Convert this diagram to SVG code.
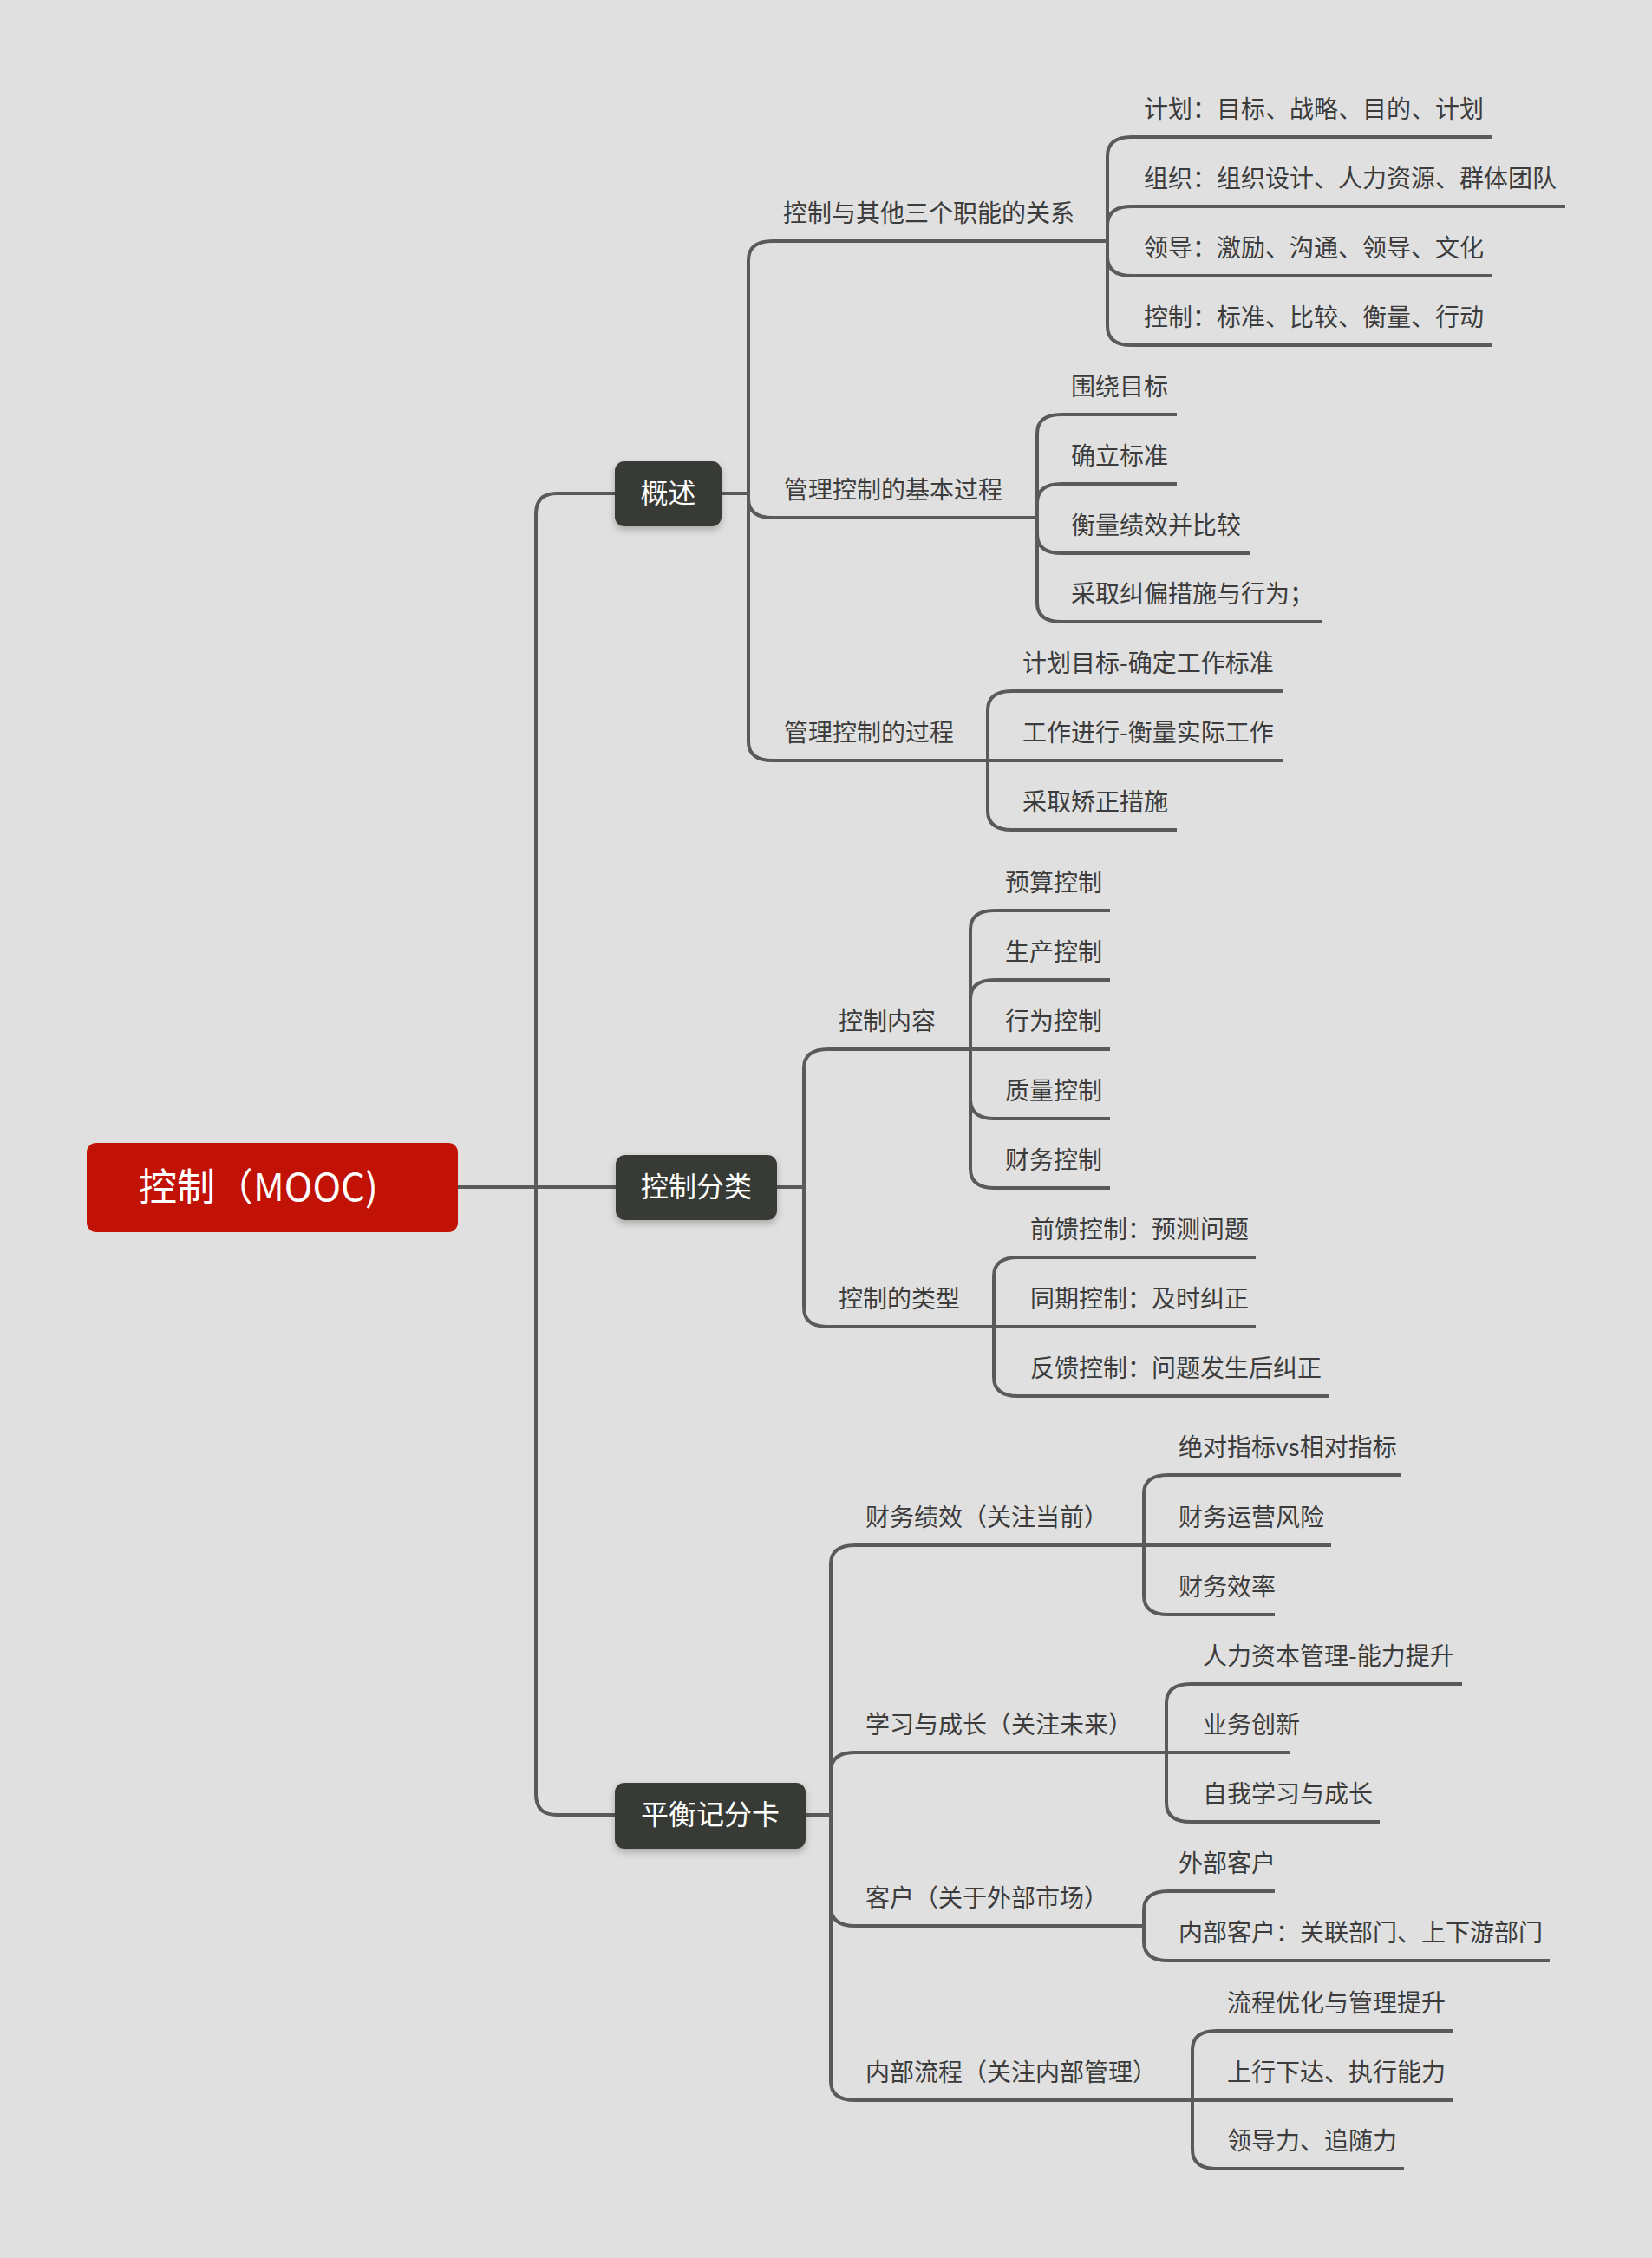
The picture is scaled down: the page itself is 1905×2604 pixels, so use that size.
<svg xmlns="http://www.w3.org/2000/svg" width="1905" height="2604" viewBox="0 0 1905 2604">
<style>
text{font-family:"Noto Sans CJK SC","Noto Sans",sans-serif}
.c path{fill:none;stroke:#5a5a5a;stroke-width:4}
.nb{fill:#393a34;filter:url(#sh)}
.nt{fill:#ffffff;font-size:32px;text-anchor:middle}
.t{fill:#3c3c3c;font-size:28px}
</style>
<defs>
<filter id="sh" x="-20%" y="-20%" width="140%" height="160%">
<feDropShadow dx="0" dy="4" stdDeviation="4" flood-color="#000" flood-opacity="0.25"/>
</filter>
</defs>
<rect width="1905" height="2604" fill="#e0e0e0"/>
<g class="c" id="connectors">
<path d="M709,569 H642 Q618,569 618,593 V2069 Q618,2093 642,2093 H709"/>
<path d="M528,1369 H710"/>
<path d="M832,569 H863"/>
<path d="M896,1369 H927"/>
<path d="M929,2093 H958"/>
<path d="M863,569 V300 Q863,278 891,278 H1277"/>
<path d="M863,569 V575 Q863,597 891,597 H1196"/>
<path d="M863,569 V855 Q863,877 891,877 H1139"/>
<path d="M927,1369 V1232 Q927,1210 955,1210 H1119"/>
<path d="M927,1369 V1508 Q927,1530 955,1530 H1146"/>
<path d="M958,2093 V1804 Q958,1782 986,1782 H1319"/>
<path d="M958,2093 V2043 Q958,2021 986,2021 H1345"/>
<path d="M958,2093 V2199 Q958,2221 986,2221 H1319"/>
<path d="M958,2093 V2400 Q958,2422 986,2422 H1375"/>
<path d="M1277,278 V180 Q1277,158 1305,158 H1720"/>
<path d="M1277,278 V260 Q1277,238 1305,238 H1805"/>
<path d="M1277,278 V296 Q1277,318 1305,318 H1720"/>
<path d="M1277,278 V376 Q1277,398 1305,398 H1720"/>
<path d="M1196,597 V500 Q1196,478 1224,478 H1357"/>
<path d="M1196,597 V580 Q1196,558 1224,558 H1357"/>
<path d="M1196,597 V616 Q1196,638 1224,638 H1441"/>
<path d="M1196,597 V695 Q1196,717 1224,717 H1524"/>
<path d="M1139,877 V819 Q1139,797 1167,797 H1479"/>
<path d="M1139,877 H1479"/>
<path d="M1139,877 V935 Q1139,957 1167,957 H1357"/>
<path d="M1119,1210 V1072 Q1119,1050 1147,1050 H1280"/>
<path d="M1119,1210 V1152 Q1119,1130 1147,1130 H1280"/>
<path d="M1119,1210 H1280"/>
<path d="M1119,1210 V1268 Q1119,1290 1147,1290 H1280"/>
<path d="M1119,1210 V1348 Q1119,1370 1147,1370 H1280"/>
<path d="M1146,1530 V1472 Q1146,1450 1174,1450 H1448"/>
<path d="M1146,1530 H1448"/>
<path d="M1146,1530 V1588 Q1146,1610 1174,1610 H1533"/>
<path d="M1319,1782 V1723 Q1319,1701 1347,1701 H1616"/>
<path d="M1319,1782 H1535"/>
<path d="M1319,1782 V1840 Q1319,1862 1347,1862 H1470"/>
<path d="M1345,2021 V1964 Q1345,1942 1373,1942 H1686"/>
<path d="M1345,2021 H1488"/>
<path d="M1345,2021 V2079 Q1345,2101 1373,2101 H1591"/>
<path d="M1319,2221 V2203 Q1319,2181 1347,2181 H1470"/>
<path d="M1319,2221 V2239 Q1319,2261 1347,2261 H1787"/>
<path d="M1375,2422 V2364 Q1375,2342 1403,2342 H1676"/>
<path d="M1375,2422 H1676"/>
<path d="M1375,2422 V2479 Q1375,2501 1403,2501 H1619"/>
</g>
<g id="root">
<rect x="100" y="1318" width="428" height="103" rx="11" fill="#c21206"/>
<text x="160" y="1385" fill="#ffffff" font-size="44">控制（MOOC)</text>
</g>
<g id="n-gaishu"><rect class="nb" x="709" y="532" width="123" height="75" rx="11"/><text class="nt" x="770.5" y="580">概述</text></g>
<g id="n-fenlei"><rect class="nb" x="710" y="1332" width="186" height="75" rx="11"/><text class="nt" x="803" y="1380">控制分类</text></g>
<g id="n-pingheng"><rect class="nb" x="709" y="2056" width="220" height="76" rx="11"/><text class="nt" x="819" y="2104">平衡记分卡</text></g>
<g id="b1"><text class="t" x="903" y="256">控制与其他三个职能的关系</text></g>
<g id="b2"><text class="t" x="904" y="575">管理控制的基本过程</text></g>
<g id="b3"><text class="t" x="904" y="855">管理控制的过程</text></g>
<g id="b4"><text class="t" x="967" y="1188">控制内容</text></g>
<g id="b5"><text class="t" x="967" y="1508">控制的类型</text></g>
<g id="b6"><text class="t" x="998" y="1760">财务绩效（关注当前）</text></g>
<g id="b7"><text class="t" x="998" y="1999">学习与成长（关注未来）</text></g>
<g id="b8"><text class="t" x="998" y="2199">客户（关于外部市场）</text></g>
<g id="b9"><text class="t" x="998" y="2400">内部流程（关注内部管理）</text></g>
<g id="l1"><text class="t" x="1319" y="136">计划：目标、战略、目的、计划</text></g>
<g id="l2"><text class="t" x="1319" y="216">组织：组织设计、人力资源、群体团队</text></g>
<g id="l3"><text class="t" x="1319" y="296">领导：激励、沟通、领导、文化</text></g>
<g id="l4"><text class="t" x="1319" y="376">控制：标准、比较、衡量、行动</text></g>
<g id="l5"><text class="t" x="1235" y="456">围绕目标</text></g>
<g id="l6"><text class="t" x="1235" y="536">确立标准</text></g>
<g id="l7"><text class="t" x="1235" y="616">衡量绩效并比较</text></g>
<g id="l8"><text class="t" x="1235" y="695">采取纠偏措施与行为；</text></g>
<g id="l9"><text class="t" x="1179" y="775">计划目标-确定工作标准</text></g>
<g id="l10"><text class="t" x="1179" y="855">工作进行-衡量实际工作</text></g>
<g id="l11"><text class="t" x="1179" y="935">采取矫正措施</text></g>
<g id="l12"><text class="t" x="1159" y="1028">预算控制</text></g>
<g id="l13"><text class="t" x="1159" y="1108">生产控制</text></g>
<g id="l14"><text class="t" x="1159" y="1188">行为控制</text></g>
<g id="l15"><text class="t" x="1159" y="1268">质量控制</text></g>
<g id="l16"><text class="t" x="1159" y="1348">财务控制</text></g>
<g id="l17"><text class="t" x="1188" y="1428">前馈控制：预测问题</text></g>
<g id="l18"><text class="t" x="1188" y="1508">同期控制：及时纠正</text></g>
<g id="l19"><text class="t" x="1188" y="1588">反馈控制：问题发生后纠正</text></g>
<g id="l20"><text class="t" x="1359" y="1679">绝对指标vs相对指标</text></g>
<g id="l21"><text class="t" x="1359" y="1760">财务运营风险</text></g>
<g id="l22"><text class="t" x="1359" y="1840">财务效率</text></g>
<g id="l23"><text class="t" x="1387" y="1920">人力资本管理-能力提升</text></g>
<g id="l24"><text class="t" x="1387" y="1999">业务创新</text></g>
<g id="l25"><text class="t" x="1387" y="2079">自我学习与成长</text></g>
<g id="l26"><text class="t" x="1359" y="2159">外部客户</text></g>
<g id="l27"><text class="t" x="1359" y="2239">内部客户：关联部门、上下游部门</text></g>
<g id="l28"><text class="t" x="1415" y="2320">流程优化与管理提升</text></g>
<g id="l29"><text class="t" x="1415" y="2400">上行下达、执行能力</text></g>
<g id="l30"><text class="t" x="1415" y="2479">领导力、追随力</text></g>
</svg>
